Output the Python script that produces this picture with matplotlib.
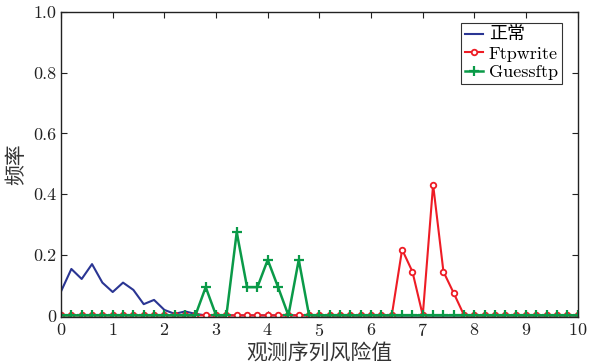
import numpy as np
import matplotlib
matplotlib.use('Agg')
import matplotlib.pyplot as plt

plt.rcParams['font.family'] = ['cmr10', 'Noto Sans CJK SC']
plt.rcParams['axes.formatter.use_mathtext'] = True
plt.rcParams['mathtext.fontset'] = 'cm'

# risk value grid, step 0.2
x = np.round(np.arange(0, 10.01, 0.2), 1)

# normal traffic
normal = np.zeros(len(x))
normal[:14] = [0.079, 0.153, 0.12, 0.169, 0.108, 0.077, 0.108, 0.084,
               0.037, 0.051, 0.018, 0.005, 0.013, 0.005]

# Ftpwrite attack
ftpwrite = np.zeros(len(x))
ftpwrite[33:39] = [0.217, 0.144, 0.0, 0.431, 0.144, 0.073]

# Guessftp attack
guessftp = np.zeros(len(x))
guessftp[14:24] = [0.093, 0.0, 0.0, 0.274, 0.093, 0.093, 0.183, 0.093, 0.0, 0.183]

xticks = list(range(0, 11))
yticks = [0, 0.2, 0.4, 0.6, 0.8, 1.0]
yticklabels = ['0', '0.2', '0.4', '0.6', '0.8', '1.0']

fig = plt.figure(figsize=(5.89, 3.63), dpi=100)
ax = fig.add_axes([0.1036, 0.127, 0.8774, 0.84])

ax.plot(x, normal, color='#2a3593', lw=1.5, label='正常')
ax.plot(x, ftpwrite, color='#ee1c25', lw=1.5, marker='o', ms=4,
        mfc='white', mew=1.3, label='Ftpwrite')
ax.plot(x, guessftp, color='#0a9a48', lw=1.8, marker='+', ms=7,
        mew=1.6, label='Guessftp')

ax.set_xlim(0, 10)
ax.set_ylim(-0.005, 1.0)
ax.set_xticks(xticks)
ax.set_yticks(yticks)
ax.set_yticklabels(yticklabels)
ax.tick_params(direction='in', top=True, right=True, labelsize=13,
               length=4, width=0.8, colors='#222222')
for s in ax.spines.values():
    s.set_linewidth(1.0)
    s.set_color('#222222')

ax.set_xlabel('观测序列风险值', fontsize=15, labelpad=3, fontweight='light',
              color='#333333')
ax.set_ylabel('频率', fontsize=15, labelpad=5, fontweight='light',
              color='#333333')

leg = ax.legend(loc='upper right', bbox_to_anchor=(0.97, 0.965),
                fontsize=13, frameon=True, fancybox=False,
                handlelength=1.0, handletextpad=0.3, borderpad=0.25,
                labelspacing=0.15, borderaxespad=0)
leg.get_frame().set_edgecolor('black')
leg.get_frame().set_linewidth(0.8)

fig.savefig('out.png', dpi=100)
